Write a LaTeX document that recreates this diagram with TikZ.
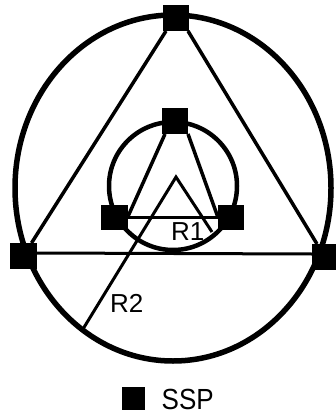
\documentclass[tikz,border=0pt]{standalone}
\usepackage{fontspec}
\setmainfont{Liberation Sans}
\begin{document}
\begin{tikzpicture}[x=1pt,y=-1pt,
  ssp/.style={fill=black, draw=none, minimum width=26pt, minimum height=26pt, inner sep=0pt, outer sep=0pt},
  outerring/.style={line width=5.5pt},
  innerring/.style={line width=4.5pt},
  link/.style={line width=3.5pt},
  radius line/.style={line width=3pt},
  lbl/.style={anchor=base west, inner sep=0pt, font=\fontsize{26}{26}\selectfont}]
\useasboundingbox (0,0) rectangle (336,414);
% rings
\draw[outerring] (173,188) ellipse [x radius=158pt, y radius=173pt];
\draw[innerring] (173,186) circle [radius=64pt];
% SSP squares
\node[ssp] (top) at (176,18) {};
\node[ssp, minimum width=27pt] (left) at (23,256) {};
\node[ssp] (right) at (325,257) {};
\node[ssp] (itop) at (175,121) {};
\node[ssp, minimum width=27pt, minimum height=25pt] (ileft) at (114,217.5) {};
\node[ssp, minimum height=25pt] (iright) at (231,217.5) {};
% outer triangle
\draw[link] ([xshift=3pt]top.south west) -- ([xshift=-5pt]left.north east);
\draw[link] ([xshift=-1pt]top.south east) -- ([xshift=5pt]right.north west);
\draw[line width=3pt] ([yshift=3pt]left.east) -- ([yshift=3pt]right.west);
% inner triangle
\draw[link] ([xshift=3pt]itop.south west) -- (ileft.east);
\draw[link] (itop.south east) -- (iright.west);
\draw[line width=3pt] (ileft.east) -- (iright.west);
% radii
\coordinate (c) at (176,177);
\coordinate (r2) at (83,329);
\coordinate (r1) at (212,232);
\draw[radius line, line join=miter] (r2) -- (c) -- (r1);
% labels
\node[lbl] (lr1) at (171,240) {R1};
\node[lbl] (lr2) at (110,312) {R2};
% legend
\node[ssp, minimum width=23pt, minimum height=23pt] (leg) at (133.5,398.5) {};
\node[lbl] (legtext) at (161.5,409) {\scalebox{1}[1.12]{SSP}};
\end{tikzpicture}
\end{document}
